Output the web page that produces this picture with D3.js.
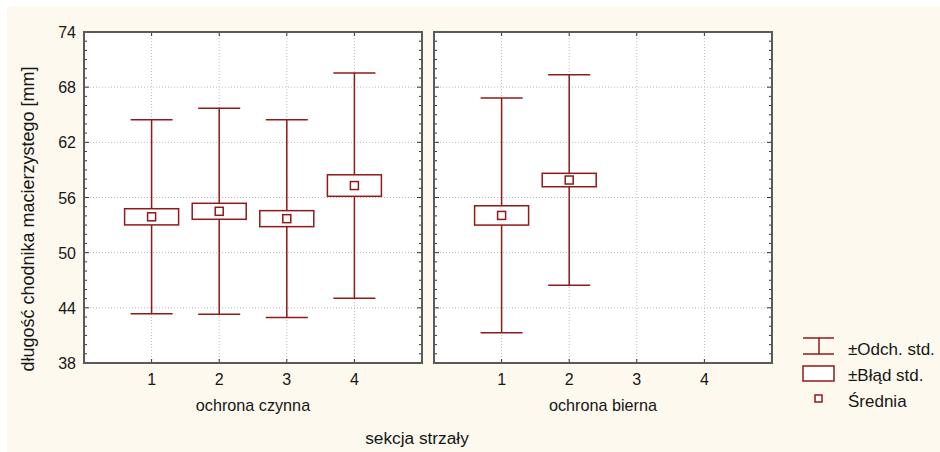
<!DOCTYPE html>
<html>
<head>
<meta charset="utf-8">
<script src="https://cdn.jsdelivr.net/npm/d3@7"></script>
<style>
  body { margin: 0; background: #fff; }
  svg { display: block; font-family: "Liberation Sans", Arial, sans-serif; }
</style>
</head>
<body>
<svg id="chart" width="940" height="452"></svg>
<script>
const groups = ['ochrona czynna', 'ochrona bierna'];
const sections = [1, 2, 3, 4];
// mean, standard error, standard deviation per group
const means = [[53.9, 54.5, 53.7, 57.3], [54.05, 57.9]];
const stdErr = [[0.88, 0.87, 0.87, 1.17], [1.05, 0.73]];
const stdDev = [[10.55, 11.2, 10.75, 12.25], [12.77, 11.45]];
const yTicks = [38, 44, 50, 56, 62, 68, 74];
const legendLabels = ['\u00b1Odch. std.', '\u00b1B\u0142\u0105d std.', '\u015arednia'];

const RED = '#8e1a1a';
const FRAME = '#5a5a5a';
const TXT = '#161616';
const svg = d3.select('#chart');

svg.append('rect')
    .attr('x', 7).attr('y', 6)
    .attr('width', 933).attr('height', 446)
    .attr('fill', '#fef9ee');

const y = d3.scaleLinear().domain([38, 74]).range([363, 32]);
const panels = [[84, 422], [434, 772]];

panels.forEach((p, gi) => {
    const x = d3.scaleLinear().domain([0, 5]).range(p);
    const g = svg.append('g');

    g.append('rect')
        .attr('x', p[0]).attr('y', y(74))
        .attr('width', p[1] - p[0]).attr('height', y(38) - y(74))
        .attr('fill', '#fff');

    // grid
    g.selectAll('.hgrid')
        .data(yTicks.slice(1, -1))
        .enter().append('line')
        .attr('x1', p[0]).attr('x2', p[1])
        .attr('y1', d => y(d)).attr('y2', d => y(d))
        .attr('stroke', '#bbb').attr('stroke-dasharray', '1,2');
    g.selectAll('.vgrid')
        .data(sections)
        .enter().append('line')
        .attr('x1', d => x(d)).attr('x2', d => x(d))
        .attr('y1', y(74)).attr('y2', y(38))
        .attr('stroke', '#bbb').attr('stroke-dasharray', '1,2');

    // inner ticks
    const minor = d3.range(38, 75, 1);
    [p[0], p[1]].forEach((ax, si) => {
        const dir = si === 0 ? 1 : -1;
        g.selectAll(null)
            .data(minor)
            .enter().append('line')
            .attr('x1', ax).attr('x2', d => ax + dir * (d % 6 === 2 ? 5 : 3))
            .attr('y1', d => y(d)).attr('y2', d => y(d))
            .attr('stroke', '#333').attr('stroke-width', 1);
    });
    [y(38), y(74)].forEach((ay, si) => {
        const dir = si === 0 ? -1 : 1;
        g.selectAll(null)
            .data(sections)
            .enter().append('line')
            .attr('x1', d => x(d)).attr('x2', d => x(d))
            .attr('y1', ay).attr('y2', ay + dir * 4)
            .attr('stroke', '#333');
    });

    // x tick labels
    g.selectAll('.xl')
        .data(sections)
        .enter().append('text')
        .attr('x', d => x(d)).attr('y', 385)
        .attr('text-anchor', 'middle')
        .attr('font-size', 16).attr('fill', TXT)
        .text(d => d);

    g.append('text')
        .attr('x', (p[0] + p[1]) / 2).attr('y', 411)
        .attr('text-anchor', 'middle')
        .attr('font-size', 16.2).attr('fill', TXT)
        .text(groups[gi]);

    // data
    const rows = means[gi].map((m, i) => ({ s: sections[i], m, se: stdErr[gi][i], sd: stdDev[gi][i] }));
    const b = g.selectAll('.box').data(rows).enter().append('g');
    b.append('line')
        .attr('x1', d => x(d.s)).attr('x2', d => x(d.s))
        .attr('y1', d => y(d.m + d.sd)).attr('y2', d => y(d.m - d.sd))
        .attr('stroke', RED).attr('stroke-width', 1.5);
    [1, -1].forEach(sg => {
        b.append('line')
            .attr('x1', d => x(d.s) - 21).attr('x2', d => x(d.s) + 21)
            .attr('y1', d => y(d.m + sg * d.sd)).attr('y2', d => y(d.m + sg * d.sd))
            .attr('stroke', RED).attr('stroke-width', 1.5);
    });
    b.append('rect')
        .attr('x', d => x(d.s) - 27).attr('width', 54)
        .attr('y', d => y(d.m + d.se)).attr('height', d => y(d.m - d.se) - y(d.m + d.se))
        .attr('fill', '#fff').attr('stroke', RED).attr('stroke-width', 1.5);
    b.append('rect')
        .attr('x', d => x(d.s) - 4).attr('width', 8)
        .attr('y', d => y(d.m) - 4).attr('height', 8)
        .attr('fill', '#fff').attr('stroke', RED).attr('stroke-width', 1.5);

    g.append('rect')
        .attr('x', p[0]).attr('y', y(74))
        .attr('width', p[1] - p[0]).attr('height', y(38) - y(74))
        .attr('fill', 'none').attr('stroke', FRAME).attr('stroke-width', 2);
});

// y axis labels
svg.selectAll('.yl')
    .data(yTicks)
    .enter().append('text')
    .attr('x', 76).attr('y', d => y(d) + 6)
    .attr('text-anchor', 'end')
    .attr('font-size', 16).attr('fill', TXT)
    .text(d => d);

svg.append('text')
    .attr('transform', 'translate(34,219) rotate(-90)')
    .attr('text-anchor', 'middle')
    .attr('font-size', 18).attr('fill', TXT)
    .text('d\u0142ugo\u015b\u0107 chodnika macierzystego [mm]');

svg.append('text')
    .attr('x', 417).attr('y', 444)
    .attr('text-anchor', 'middle')
    .attr('font-size', 17.3).attr('fill', TXT)
    .text('sekcja strza\u0142y');

// legend
const lg = svg.append('g');
lg.append('line').attr('x1', 819).attr('x2', 819).attr('y1', 338).attr('y2', 354)
    .attr('stroke', RED).attr('stroke-width', 1.5);
[338, 354].forEach(v => lg.append('line').attr('x1', 803).attr('x2', 834)
    .attr('y1', v).attr('y2', v).attr('stroke', RED).attr('stroke-width', 1.5));
lg.append('rect').attr('x', 803).attr('y', 366).attr('width', 31).attr('height', 15)
    .attr('fill', '#fff').attr('stroke', RED).attr('stroke-width', 1.5);
lg.append('rect').attr('x', 815).attr('y', 395).attr('width', 7).attr('height', 7)
    .attr('fill', '#fff').attr('stroke', RED).attr('stroke-width', 1.5);
lg.selectAll('.lt')
    .data(legendLabels)
    .enter().append('text')
    .attr('x', 848).attr('y', (d, i) => 355 + i * 26)
    .attr('font-size', 17).attr('fill', TXT)
    .text(d => d);
</script>
</body>
</html>
